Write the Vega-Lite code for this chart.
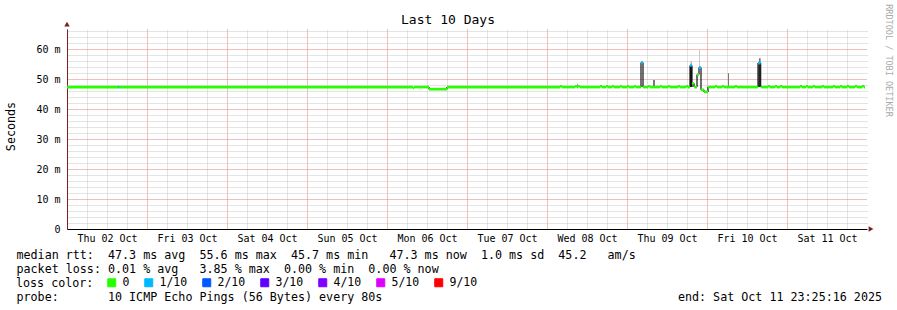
{
  "$schema": "https://vega.github.io/schema/vega-lite/v6.json",
  "width": 800,
  "height": 200,
  "autosize": {"type": "none"},
  "padding": {"left": 67, "top": 29, "right": 30, "bottom": 81},
  "background": "#ffffff",
  "title": {"text": "Last 10 Days", "font": "DejaVu Sans Mono", "fontSize": 13, "fontWeight": "normal", "color": "#000000", "anchor": "middle", "frame": "group", "dx": -19, "offset": -33, "baseline": "alphabetic"},
  "config": {
    "view": {"stroke": null},
    "font": "DejaVu Sans Mono",
    "axis": {"labelFont": "DejaVu Sans Mono", "labelFontSize": 10, "labelColor": "#000000", "titleFont": "DejaVu Sans Mono", "titleFontSize": 11.7, "titleFontWeight": "normal", "titleColor": "#000000"}
  },
  "datasets": {
    "median": [
      {"t": "2025-10-02T00:00", "e": "2025-10-02T15:18", "ms": 47.3, "loss": "0"},
      {"t": "2025-10-02T15:18", "e": "2025-10-02T15:36", "ms": 47.3, "loss": "1/10"},
      {"t": "2025-10-02T15:36", "e": "2025-10-06T07:48", "ms": 47.3, "loss": "0"},
      {"t": "2025-10-06T07:48", "e": "2025-10-06T08:06", "ms": 47.0, "loss": "0"},
      {"t": "2025-10-06T08:06", "e": "2025-10-06T12:36", "ms": 47.3, "loss": "0"},
      {"t": "2025-10-06T12:36", "e": "2025-10-06T18:00", "ms": 46.6, "loss": "0"},
      {"t": "2025-10-06T18:00", "e": "2025-10-08T03:54", "ms": 47.3, "loss": "0"},
      {"t": "2025-10-08T03:54", "e": "2025-10-08T04:30", "ms": 47.6, "loss": "0"},
      {"t": "2025-10-08T04:30", "e": "2025-10-08T08:24", "ms": 47.3, "loss": "0"},
      {"t": "2025-10-08T08:24", "e": "2025-10-08T09:00", "ms": 47.6, "loss": "0"},
      {"t": "2025-10-08T09:00", "e": "2025-10-08T09:18", "ms": 47.3, "loss": "0"},
      {"t": "2025-10-08T09:18", "e": "2025-10-08T09:54", "ms": 47.6, "loss": "0"},
      {"t": "2025-10-08T09:54", "e": "2025-10-08T15:54", "ms": 47.3, "loss": "0"},
      {"t": "2025-10-08T15:54", "e": "2025-10-08T16:30", "ms": 47.6, "loss": "0"},
      {"t": "2025-10-08T16:30", "e": "2025-10-08T17:42", "ms": 47.3, "loss": "0"},
      {"t": "2025-10-08T17:42", "e": "2025-10-08T18:18", "ms": 47.6, "loss": "0"},
      {"t": "2025-10-08T18:18", "e": "2025-10-08T19:30", "ms": 47.3, "loss": "0"},
      {"t": "2025-10-08T19:30", "e": "2025-10-08T20:06", "ms": 47.6, "loss": "0"},
      {"t": "2025-10-08T20:06", "e": "2025-10-08T21:54", "ms": 47.3, "loss": "0"},
      {"t": "2025-10-08T21:54", "e": "2025-10-08T22:30", "ms": 47.6, "loss": "0"},
      {"t": "2025-10-08T22:30", "e": "2025-10-09T00:00", "ms": 47.3, "loss": "0"},
      {"t": "2025-10-09T00:00", "e": "2025-10-09T00:36", "ms": 47.6, "loss": "0"},
      {"t": "2025-10-09T00:36", "e": "2025-10-09T02:06", "ms": 47.3, "loss": "0"},
      {"t": "2025-10-09T02:06", "e": "2025-10-09T02:42", "ms": 47.6, "loss": "0"},
      {"t": "2025-10-09T02:42", "e": "2025-10-09T04:12", "ms": 47.3, "loss": "0"},
      {"t": "2025-10-09T04:12", "e": "2025-10-09T04:48", "ms": 55.5, "loss": "1/10"},
      {"t": "2025-10-09T04:48", "e": "2025-10-09T06:18", "ms": 47.3, "loss": "0"},
      {"t": "2025-10-09T06:18", "e": "2025-10-09T06:54", "ms": 47.6, "loss": "0"},
      {"t": "2025-10-09T06:54", "e": "2025-10-09T09:54", "ms": 47.3, "loss": "0"},
      {"t": "2025-10-09T09:54", "e": "2025-10-09T10:30", "ms": 47.6, "loss": "0"},
      {"t": "2025-10-09T10:30", "e": "2025-10-09T12:18", "ms": 47.3, "loss": "0"},
      {"t": "2025-10-09T12:18", "e": "2025-10-09T12:54", "ms": 47.6, "loss": "0"},
      {"t": "2025-10-09T12:54", "e": "2025-10-09T15:18", "ms": 47.3, "loss": "0"},
      {"t": "2025-10-09T15:18", "e": "2025-10-09T15:54", "ms": 47.6, "loss": "0"},
      {"t": "2025-10-09T15:54", "e": "2025-10-09T17:42", "ms": 47.3, "loss": "0"},
      {"t": "2025-10-09T17:42", "e": "2025-10-09T18:18", "ms": 47.6, "loss": "0"},
      {"t": "2025-10-09T18:18", "e": "2025-10-09T18:54", "ms": 47.3, "loss": "0"},
      {"t": "2025-10-09T18:54", "e": "2025-10-09T19:30", "ms": 54.5, "loss": "1/10"},
      {"t": "2025-10-09T19:30", "e": "2025-10-09T20:06", "ms": 48.6, "loss": "0"},
      {"t": "2025-10-09T20:06", "e": "2025-10-09T21:00", "ms": 47.3, "loss": "0"},
      {"t": "2025-10-09T21:00", "e": "2025-10-09T21:36", "ms": 51.5, "loss": "0"},
      {"t": "2025-10-09T21:36", "e": "2025-10-09T22:12", "ms": 53.8, "loss": "1/10"},
      {"t": "2025-10-09T22:12", "e": "2025-10-09T23:06", "ms": 46.4, "loss": "0"},
      {"t": "2025-10-09T23:06", "e": "2025-10-10T00:18", "ms": 45.7, "loss": "0"},
      {"t": "2025-10-10T00:18", "e": "2025-10-10T02:24", "ms": 47.3, "loss": "0"},
      {"t": "2025-10-10T02:24", "e": "2025-10-10T03:00", "ms": 47.6, "loss": "0"},
      {"t": "2025-10-10T03:00", "e": "2025-10-10T04:30", "ms": 47.3, "loss": "0"},
      {"t": "2025-10-10T04:30", "e": "2025-10-10T05:06", "ms": 47.6, "loss": "0"},
      {"t": "2025-10-10T05:06", "e": "2025-10-10T08:24", "ms": 47.3, "loss": "0"},
      {"t": "2025-10-10T08:24", "e": "2025-10-10T09:00", "ms": 47.6, "loss": "0"},
      {"t": "2025-10-10T09:00", "e": "2025-10-10T15:18", "ms": 47.3, "loss": "0"},
      {"t": "2025-10-10T15:18", "e": "2025-10-10T16:06", "ms": 55.3, "loss": "1/10"},
      {"t": "2025-10-10T16:06", "e": "2025-10-10T18:18", "ms": 47.3, "loss": "0"},
      {"t": "2025-10-10T18:18", "e": "2025-10-10T18:54", "ms": 47.6, "loss": "0"},
      {"t": "2025-10-10T18:54", "e": "2025-10-10T20:24", "ms": 47.3, "loss": "0"},
      {"t": "2025-10-10T20:24", "e": "2025-10-10T21:00", "ms": 47.6, "loss": "0"},
      {"t": "2025-10-10T21:00", "e": "2025-10-10T21:54", "ms": 47.3, "loss": "0"},
      {"t": "2025-10-10T21:54", "e": "2025-10-10T22:30", "ms": 47.6, "loss": "0"},
      {"t": "2025-10-10T22:30", "e": "2025-10-11T03:54", "ms": 47.3, "loss": "0"},
      {"t": "2025-10-11T03:54", "e": "2025-10-11T04:30", "ms": 47.6, "loss": "0"},
      {"t": "2025-10-11T04:30", "e": "2025-10-11T05:42", "ms": 47.3, "loss": "0"},
      {"t": "2025-10-11T05:42", "e": "2025-10-11T06:18", "ms": 47.6, "loss": "0"},
      {"t": "2025-10-11T06:18", "e": "2025-10-11T07:48", "ms": 47.3, "loss": "0"},
      {"t": "2025-10-11T07:48", "e": "2025-10-11T08:24", "ms": 47.6, "loss": "0"},
      {"t": "2025-10-11T08:24", "e": "2025-10-11T10:30", "ms": 47.3, "loss": "0"},
      {"t": "2025-10-11T10:30", "e": "2025-10-11T11:06", "ms": 47.6, "loss": "0"},
      {"t": "2025-10-11T11:06", "e": "2025-10-11T13:48", "ms": 47.3, "loss": "0"},
      {"t": "2025-10-11T13:48", "e": "2025-10-11T14:24", "ms": 47.6, "loss": "0"},
      {"t": "2025-10-11T14:24", "e": "2025-10-11T15:54", "ms": 47.3, "loss": "0"},
      {"t": "2025-10-11T15:54", "e": "2025-10-11T16:30", "ms": 47.6, "loss": "0"},
      {"t": "2025-10-11T16:30", "e": "2025-10-11T18:00", "ms": 47.3, "loss": "0"},
      {"t": "2025-10-11T18:00", "e": "2025-10-11T18:36", "ms": 47.6, "loss": "0"},
      {"t": "2025-10-11T18:36", "e": "2025-10-11T20:24", "ms": 47.3, "loss": "0"},
      {"t": "2025-10-11T20:24", "e": "2025-10-11T21:00", "ms": 47.6, "loss": "0"},
      {"t": "2025-10-11T21:00", "e": "2025-10-11T22:30", "ms": 47.3, "loss": "0"},
      {"t": "2025-10-11T22:30", "e": "2025-10-11T23:06", "ms": 47.6, "loss": "0"},
      {"t": "2025-10-11T23:06", "e": "2025-10-11T23:25", "ms": 47.3, "loss": "0"}
    ],
    "smoke": [
      {"t": "2025-10-08T09:00", "e": "2025-10-08T09:18", "lo": 47.3, "hi": 48.4, "density": 3},
      {"t": "2025-10-09T07:48", "e": "2025-10-09T08:24", "lo": 47.3, "hi": 49.7, "density": 5},
      {"t": "2025-10-09T18:54", "e": "2025-10-09T19:30", "lo": 47.3, "hi": 54.5, "density": 9.5},
      {"t": "2025-10-09T19:06", "e": "2025-10-09T19:24", "lo": 54.5, "hi": 55.8, "density": 4},
      {"t": "2025-10-09T19:30", "e": "2025-10-09T19:48", "lo": 47.3, "hi": 48.6, "density": 6},
      {"t": "2025-10-09T21:42", "e": "2025-10-09T21:54", "lo": 53.8, "hi": 59.7, "density": 2.5},
      {"t": "2025-10-10T06:18", "e": "2025-10-10T06:36", "lo": 47.3, "hi": 51.9, "density": 5},
      {"t": "2025-10-10T15:24", "e": "2025-10-10T15:54", "lo": 47.3, "hi": 55.3, "density": 9},
      {"t": "2025-10-10T15:36", "e": "2025-10-10T16:06", "lo": 55.3, "hi": 56.9, "density": 5}
    ]
  },
  "layer": [
    {
      "data": {"name": "smoke"},
      "mark": {"type": "rect"},
      "encoding": {
        "x": {"field": "t", "type": "temporal",
          "scale": {"domain": [{"year": 2025, "month": 10, "date": 2}, {"year": 2025, "month": 10, "date": 12}]},
          "axis": {"orient": "bottom",
            "values": [{"year": 2025, "month": 10, "date": 2}, {"year": 2025, "month": 10, "date": 3}, {"year": 2025, "month": 10, "date": 4}, {"year": 2025, "month": 10, "date": 5}, {"year": 2025, "month": 10, "date": 6}, {"year": 2025, "month": 10, "date": 7}, {"year": 2025, "month": 10, "date": 8}, {"year": 2025, "month": 10, "date": 9}, {"year": 2025, "month": 10, "date": 10}, {"year": 2025, "month": 10, "date": 11}],
            "format": "%a %d %b", "labelOffset": 40, "labelFlush": false, "labelOverlap": false, "labelPadding": 4,
            "ticks": false, "tickSize": 0, "domainColor": "#000000", "domainWidth": 1,
            "grid": true, "gridColor": "#e08080", "gridDash": [1, 1], "gridWidth": 1,
            "title": ["median rtt:\u00a0\u00a047.3 ms avg\u00a0\u00a055.6 ms max\u00a0\u00a045.7 ms min\u00a0\u00a0\u00a047.3 ms now\u00a0\u00a01.0 ms sd\u00a0\u00a045.2\u00a0\u00a0\u00a0am/s",
                      "packet loss: 0.01 % avg\u00a0\u00a0\u00a03.85 % max\u00a0\u00a00.00 % min\u00a0\u00a00.00 % now"],
            "titleAnchor": "start", "titleAlign": "left", "titleX": -51, "titleY": 29.5, "titleBaseline": "alphabetic", "titleLineHeight": 14}},
        "x2": {"field": "e"},
        "y": {"field": "lo", "type": "quantitative",
          "scale": {"domain": [0, 66.67], "nice": false, "zero": true},
          "axis": {"orient": "left", "values": [0, 10, 20, 30, 40, 50, 60],
            "labelExpr": "datum.value == 0 ? '0' : datum.value + ' m'",
            "ticks": false, "tickSize": 0, "labelPadding": 7, "domainColor": "#7f1f1f", "domainWidth": 1,
            "grid": true, "gridColor": "#e08080", "gridDash": [1, 1], "gridWidth": 1,
            "title": "Seconds", "titleX": -57, "titleY": 97, "titleAngle": -90, "titleAlign": "center", "titleBaseline": "middle"}},
        "y2": {"field": "hi"},
        "fill": {"field": "density", "type": "quantitative", "scale": {"domain": [0, 10], "range": ["#f0f0f0", "#111111"]}, "legend": null}
      }
    },
    {
      "data": {"name": "median"},
      "transform": [
        {"window": [{"op": "lag", "field": "ms", "as": "prev"}], "sort": [{"field": "t", "order": "ascending"}]},
        {"filter": "datum.prev != null && abs(datum.ms - datum.prev) > 0.5"}
      ],
      "mark": {"type": "rule", "color": "#111111", "strokeWidth": 1.2},
      "encoding": {
        "x": {"field": "t", "type": "temporal",
          "axis": {"orient": "top",
            "values": [
              {"year": 2025, "month": 10, "date": 2, "hours": 6}, {"year": 2025, "month": 10, "date": 2, "hours": 12}, {"year": 2025, "month": 10, "date": 2, "hours": 18},
              {"year": 2025, "month": 10, "date": 3, "hours": 6}, {"year": 2025, "month": 10, "date": 3, "hours": 12}, {"year": 2025, "month": 10, "date": 3, "hours": 18},
              {"year": 2025, "month": 10, "date": 4, "hours": 6}, {"year": 2025, "month": 10, "date": 4, "hours": 12}, {"year": 2025, "month": 10, "date": 4, "hours": 18},
              {"year": 2025, "month": 10, "date": 5, "hours": 6}, {"year": 2025, "month": 10, "date": 5, "hours": 12}, {"year": 2025, "month": 10, "date": 5, "hours": 18},
              {"year": 2025, "month": 10, "date": 6, "hours": 6}, {"year": 2025, "month": 10, "date": 6, "hours": 12}, {"year": 2025, "month": 10, "date": 6, "hours": 18},
              {"year": 2025, "month": 10, "date": 7, "hours": 6}, {"year": 2025, "month": 10, "date": 7, "hours": 12}, {"year": 2025, "month": 10, "date": 7, "hours": 18},
              {"year": 2025, "month": 10, "date": 8, "hours": 6}, {"year": 2025, "month": 10, "date": 8, "hours": 12}, {"year": 2025, "month": 10, "date": 8, "hours": 18},
              {"year": 2025, "month": 10, "date": 9, "hours": 6}, {"year": 2025, "month": 10, "date": 9, "hours": 12}, {"year": 2025, "month": 10, "date": 9, "hours": 18},
              {"year": 2025, "month": 10, "date": 10, "hours": 6}, {"year": 2025, "month": 10, "date": 10, "hours": 12}, {"year": 2025, "month": 10, "date": 10, "hours": 18},
              {"year": 2025, "month": 10, "date": 11, "hours": 6}, {"year": 2025, "month": 10, "date": 11, "hours": 12}, {"year": 2025, "month": 10, "date": 11, "hours": 18}
            ],
            "labels": false, "ticks": false, "domain": false,
            "grid": true, "gridColor": "#c8c8c8", "gridDash": [1, 1], "gridWidth": 1,
            "title": "probe:\u00a0\u00a0\u00a0\u00a0\u00a0\u00a0\u00a010 ICMP Echo Pings (56 Bytes) every 80s\u00a0\u00a0\u00a0\u00a0\u00a0\u00a0\u00a0\u00a0\u00a0\u00a0\u00a0\u00a0\u00a0\u00a0\u00a0\u00a0\u00a0\u00a0\u00a0\u00a0\u00a0\u00a0\u00a0\u00a0\u00a0\u00a0\u00a0\u00a0\u00a0\u00a0\u00a0\u00a0\u00a0\u00a0\u00a0\u00a0\u00a0\u00a0\u00a0\u00a0\u00a0\u00a0end: Sat Oct 11 23:25:16 2025",
            "titleAnchor": "start", "titleAlign": "left", "titleX": -51, "titleY": 271.5, "titleBaseline": "alphabetic", "titleAngle": 0}},
        "y": {"field": "prev", "type": "quantitative",
          "axis": {"orient": "right",
            "values": [2, 4, 6, 8, 12, 14, 16, 18, 22, 24, 26, 28, 32, 34, 36, 38, 42, 44, 46, 48, 52, 54, 56, 58, 62, 64, 66],
            "labels": false, "ticks": false, "domain": false,
            "grid": true, "gridColor": "#c8c8c8", "gridDash": [1, 1], "gridWidth": 1,
            "title": "RRDTOOL / TOBI OETIKER", "titleAngle": 90, "titleFontSize": 8.5, "titleColor": "#aaaaaa",
            "titleX": 21, "titleY": 31, "titleAlign": "center", "titleBaseline": "middle"}},
        "y2": {"field": "ms"}
      }
    },
    {
      "data": {"name": "median"},
      "mark": {"type": "rule", "strokeWidth": 2.6},
      "encoding": {
        "x": {"field": "t", "type": "temporal", "axis": null},
        "x2": {"field": "e"},
        "y": {"field": "ms", "type": "quantitative", "axis": null},
        "color": {"field": "loss", "type": "nominal",
          "scale": {"domain": ["0", "1/10", "2/10", "3/10", "4/10", "5/10", "9/10"],
                    "range": ["#26ff00", "#00b8ff", "#0059ff", "#5e00ff", "#7e00ff", "#dd00ff", "#ff0000"]},
          "legend": {"orient": "none", "legendX": -51, "legendY": 248, "direction": "horizontal",
            "title": "loss color:", "titleOrient": "left", "titleFont": "DejaVu Sans Mono", "titleFontSize": 11.7, "titleFontWeight": "normal", "titleColor": "#000000", "titlePadding": 12, "titleBaseline": "middle", "titleAnchor": "middle",
            "gridAlign": "none",
            "symbolType": "square", "symbolSize": 64, "symbolStrokeColor": "#000000", "symbolStrokeWidth": 1,
            "labelFont": "DejaVu Sans Mono", "labelFontSize": 11.5, "labelColor": "#000000", "labelOffset": 5,
            "columnPadding": 12, "padding": 0, "labelLimit": 0,
            "encode": {"symbols": {"update": {"fill": {"scale": "color", "field": "value"}, "stroke": {"value": "#000000"}, "strokeWidth": {"value": 1}, "opacity": {"value": 1}, "shape": {"value": "square"}}}}}}
      }
    },
    {
      "data": {"values": [{"t": "2025-10-02T00:00", "ms": 68.3}]},
      "mark": {"type": "point", "shape": "triangle-up", "filled": true, "color": "#7f1f1f", "size": 30, "opacity": 1},
      "encoding": {
        "x": {"field": "t", "type": "temporal", "axis": null},
        "y": {"field": "ms", "type": "quantitative", "axis": null}
      }
    },
    {
      "data": {"values": [{"t": "2025-10-12T01:12", "ms": 0}]},
      "mark": {"type": "point", "shape": "triangle-right", "filled": true, "color": "#7f1f1f", "size": 30, "opacity": 1},
      "encoding": {
        "x": {"field": "t", "type": "temporal", "axis": null},
        "y": {"field": "ms", "type": "quantitative", "axis": null}
      }
    }
  ],
  "resolve": {"axis": {"x": "independent", "y": "independent"}}
}
